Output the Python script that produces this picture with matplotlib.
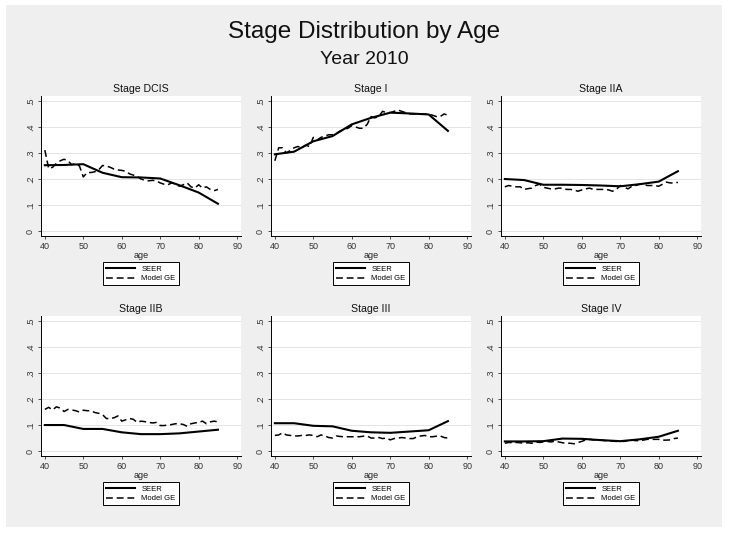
import numpy as np
import matplotlib
matplotlib.use("Agg")
import matplotlib.pyplot as plt
from matplotlib.patches import Rectangle

plt.rcParams["font.family"] = ["Liberation Sans", "DejaVu Sans"]

# edades
edad_seer = [40, 45, 50, 55, 60, 65, 70, 75, 80, 85]
edad_model = list(range(40, 86))

etapas = ["Stage DCIS", "Stage I", "Stage IIA", "Stage IIB", "Stage III", "Stage IV"]

seer_dcis = [.253, .254, .257, .224, .207, .206, .202, .176, .148, .105]
seer_i = [.295, .305, .345, .365, .410, .435, .455, .452, .448, .385]
seer_iia = [.200, .196, .178, .178, .177, .175, .172, .180, .190, .230]
seer_iib = [.100, .100, .085, .085, .072, .065, .065, .068, .075, .082]
seer_iii = [.107, .107, .097, .095, .078, .072, .070, .075, .080, .115]
seer_iv = [.037, .037, .038, .048, .047, .042, .038, .045, .055, .078]

model_dcis = [.311, .240, .245, .260, .270, .276, .270, .255, .260, .250,
              .208, .225, .225, .228, .235, .252, .250, .245, .238, .235,
              .233, .230, .220, .215, .210, .200, .195, .193, .195, .193,
              .185, .180, .178, .185, .180, .172, .178, .185, .170, .165,
              .178, .165, .170, .160, .155, .160]
model_i = [.270, .320, .320, .300, .310, .320, .325, .320, .330, .325,
           .360, .350, .360, .365, .370, .370, .375, .385, .390, .395,
           .405, .400, .395, .395, .410, .440, .435, .440, .460, .455,
           .455, .460, .465, .460, .455, .450, .450, .450, .450, .450,
           .450, .445, .440, .440, .450, .445]
model_iia = [.170, .175, .172, .170, .170, .160, .163, .165, .175, .180,
             .168, .165, .162, .162, .165, .165, .160, .160, .158, .153,
             .158, .162, .165, .160, .160, .160, .160, .158, .153, .160,
             .175, .170, .162, .172, .175, .180, .180, .175, .175, .175,
             .172, .180, .188, .185, .185, .187]
model_iib = [.160, .168, .158, .170, .165, .152, .160, .158, .155, .150,
             .157, .155, .155, .148, .145, .140, .125, .125, .128, .135,
             .115, .120, .125, .122, .110, .115, .113, .110, .108, .110,
             .098, .098, .100, .102, .105, .105, .102, .095, .105, .108,
             .110, .115, .105, .112, .115, .112]
model_iii = [.060, .062, .070, .062, .060, .058, .058, .060, .060, .062,
             .060, .055, .062, .058, .052, .050, .058, .056, .055, .055,
             .055, .055, .055, .057, .058, .050, .050, .052, .048, .050,
             .043, .048, .050, .052, .050, .048, .048, .055, .058, .060,
             .055, .055, .057, .058, .052, .050]
model_iv = [.030, .033, .032, .033, .032, .030, .032, .030, .035, .033,
            .035, .037, .035, .038, .035, .032, .030, .030, .028, .033,
            .037, .043, .045, .043, .043, .042, .040, .040, .038, .037,
            .038, .037, .040, .042, .040, .040, .042, .045, .045, .045,
            .045, .042, .042, .043, .048, .050]

seer = [seer_dcis, seer_i, seer_iia, seer_iib, seer_iii, seer_iv]
model = [model_dcis, model_i, model_iia, model_iib, model_iii, model_iv]

y_ticks = [0, .1, .2, .3, .4, .5]
y_labels = ["0", ".1", ".2", ".3", ".4", ".5"]
x_ticks = [40, 50, 60, 70, 80, 90]

W, H = 729, 534
fig = plt.figure(figsize=(W / 100, H / 100), dpi=100, facecolor="white")
fig.patches.append(Rectangle((6 / W, 7 / H), 716 / W, 522 / H, transform=fig.transFigure,
                             facecolor="#efefef", edgecolor="none", zorder=-10))

fig.text(0.5, 1 - 32 / H, "Stage Distribution by Age", ha="center", va="center",
         fontsize=17.5, color="#111111")
fig.text(0.5, 1 - 60 / H, "Year 2010", ha="center", va="center", fontsize=14, color="#111111")

lefts = [41, 271, 501]
tops = [96, 316]
for i, titulo in enumerate(etapas):
    fila, col = divmod(i, 3)
    ax = fig.add_axes([lefts[col] / W, 1 - (tops[fila] + 140) / H, 200 / W, 140 / H])
    ax.set_facecolor("white")
    ax.plot(edad_seer, seer[i], color="black", lw=1.5, label="SEER")
    ax.plot(edad_model, model[i], color="black", lw=1.1, ls=(0, (4.5, 2.5)), label="Model GE")
    ax.set_xlim(39, 91)
    ax.set_ylim(-0.019, 0.519)
    ax.set_xticks(x_ticks)
    ax.set_yticks(y_ticks)
    ax.set_yticklabels(y_labels, rotation=90, va="center")
    ax.tick_params(labelsize=6.5, length=2.5, width=0.6, pad=2, colors="#333333")
    ax.grid(axis="y", color="#e4e4e4", lw=0.7)
    ax.set_axisbelow(True)
    for s in ["top", "right"]:
        ax.spines[s].set_visible(False)
    for s in ["left", "bottom"]:
        ax.spines[s].set_linewidth(0.7)
    ax.set_title(titulo, fontsize=7.6, pad=3, color="#111111")
    ax.set_xlabel("age", fontsize=6.5, labelpad=0, color="#222222")
    leg = ax.legend(loc="upper center", bbox_to_anchor=(0.5, -0.16), ncol=1,
                    fontsize=5.5, handlelength=3.8, fancybox=False, framealpha=1,
                    edgecolor="black", borderpad=0.4, labelspacing=0.3, handletextpad=0.8)
    leg.get_frame().set_linewidth(0.7)

fig.savefig("out.png", dpi=100, facecolor="white")
